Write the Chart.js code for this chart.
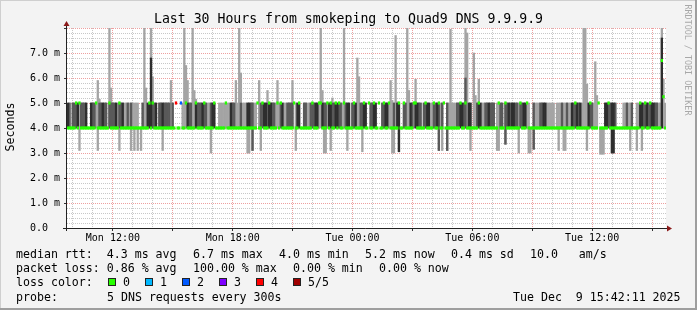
<!DOCTYPE html>
<html>
<head>
<meta charset="utf-8">
<title>Last 30 Hours from smokeping to Quad9 DNS 9.9.9.9</title>
<script src="https://cdn.jsdelivr.net/npm/chart.js@4.4.1/dist/chart.umd.min.js"></script>
<style>
  html, body { margin: 0; padding: 0; background: #f3f3f3; }
  #frame { position: relative; width: 697px; height: 310px; background: #f3f3f3; overflow: hidden; }
  #frame canvas { position: absolute; left: 0; top: 0; }
  .txt { position: absolute; font-family: "DejaVu Sans Mono", monospace; font-size: 11.6px; line-height: 14px; white-space: pre; color: #000; }
  .box { position: absolute; width: 6px; height: 6px; border: 1px solid #222; }
  #title { position: absolute; left: 0; width: 697px; top: 11px; text-align: center; font-family: "DejaVu Sans Mono", monospace; font-size: 13.2px; line-height: 16px; color: #000; }
  #ylab { position: absolute; left: 10px; top: 127px; transform: translate(-50%, -50%) rotate(-90deg); font-family: "DejaVu Sans Mono", monospace; font-size: 11.6px; white-space: pre; }
  #rrd { position: absolute; left: 688px; top: 60px; transform: translate(-50%, -50%) rotate(90deg); font-family: "DejaVu Sans Mono", monospace; font-size: 8.4px; white-space: pre; color: #a8a8a8; }
  .edge { position: absolute; }
</style>
</head>
<body>
<div id="frame">
  <canvas id="smokeChart" width="697" height="310"></canvas>
  <div id="title">Last 30 Hours from smokeping to Quad9 DNS 9.9.9.9</div>
  <div id="ylab">Seconds</div>
  <div id="rrd">RRDTOOL / TOBI OETIKER</div>
  <div id="legend"></div>
  <div class="edge" style="left:0;top:0;width:697px;height:1px;background:#cfcfcf"></div>
  <div class="edge" style="left:0;top:0;width:1px;height:310px;background:#cfcfcf"></div>
  <div class="edge" style="left:695px;top:0;width:2px;height:310px;background:#9e9e9e"></div>
  <div class="edge" style="left:0;top:308px;width:697px;height:2px;background:#9e9e9e"></div>
</div>
<script>
// 5 minute steps from Mon 09:42 to Tue 15:42
const stepMinutes = 5;
const startHour = 9, startMinute = 42;

// smoke texture per step: w = all pings equal, l = outer pings spread, d = inner pings spread, k = dense inner
const bandShade =
  "kdwdddkwdddkwwkddllddkddwddddk" +
  "lddklldldllllwwdllkkkddkwddkdd" +
  "ddldwwwwwlllkddllkdddkddlldkkw" +
  "wlllllllkddllldlllkkddllwwddkk" +
  "dkkddllldkllddddwlkkwwddlldddk" +
  "kllkddlkkddkkddlldkkwddkllddkk" +
  "wwddkkwwwddkkllldlkkwwddllkdlk" +
  "kddwddkklldd" + "kdldwwdlllll" + "ddkkdd" +
  "lkkwlldkklldd" + "kdddwlldd" + "wddkdkkd" +
  "dlddkkllwwdllldd" + "kklllllwllldll" +
  "dllkddkdkllll" + "kddlllwwww" + "kkddkkd" +
  "wwwwlldlldwwllkkddkddkkddllkll";

// steps whose median rtt is 5 ms (all others 4 ms)
const medianHighSteps = [5, 7, 17, 25, 31, 49, 51, 65, 68, 71, 77, 82, 88, 95, 114, 117, 121, 126, 128,
  136, 139, 147, 151, 152, 156, 158, 161, 163, 166, 172, 178, 181, 184, 187, 190, 193, 199, 202, 208,
  209, 215, 220, 223, 226, 236, 239, 247, 259, 263, 272, 276, 305, 314, 319, 325, 344, 347, 350];
const medianOther = [[357, 6.7], [358, 5.25]];
// [step, lost pings]
const lossSteps = [[65, 4], [68, 2]];

// [step, highest ping ms, inner top ms]
const upSpikes = [[18, 5.9], [19, 5.15], [25, 8.0], [26, 5.6], [46, 8.0], [47, 5.6], [50, 8.0, 6.8], [51, 6.05],
  [62, 5.9], [70, 8.0], [71, 6.5], [72, 5.9], [75, 8.0], [76, 5.5], [77, 5.15], [101, 5.9], [103, 8.0],
  [104, 6.2], [115, 5.9], [120, 5.5], [126, 5.9], [135, 5.9], [152, 8.0], [153, 5.5], [159, 5.2],
  [166, 8.0], [174, 6.8], [175, 6.05], [194, 5.9], [195, 5.1], [197, 7.7], [198, 5.05], [204, 8.0],
  [205, 5.5], [209, 5.95], [230, 7.95], [239, 8.0, 6.0], [240, 7.8], [244, 7.0], [245, 5.3], [247, 5.95],
  [310, 8.0], [311, 8.0], [312, 5.75], [317, 6.65], [318, 5.3], [357, 8.0, 7.6], [358, 5.95]];
// [step, lowest ping ms, inner reaches down too]
const downSpikes = [[7, 3.1], [18, 3.1], [31, 3.1], [38, 3.1], [40, 3.1], [42, 3.1], [44, 3.1], [57, 3.1],
  [86, 3.0], [108, 3.0], [109, 3.0], [111, 3.1, 1], [116, 3.1], [137, 3.1], [154, 3.0], [155, 3.0],
  [158, 3.1], [168, 3.1], [177, 3.05], [195, 3.0], [196, 3.0], [199, 3.05, 1], [223, 3.1, 1], [225, 3.1],
  [228, 3.1, 1], [242, 3.1], [258, 3.1], [259, 3.1], [263, 3.35, 1], [271, 3.0], [277, 3.0], [278, 3.0],
  [280, 3.15, 1], [295, 3.1], [298, 3.1], [299, 3.1], [312, 3.1], [320, 2.95], [321, 2.95], [322, 2.95],
  [327, 3.0, 1], [328, 3.0, 1], [338, 3.1], [342, 3.1], [345, 3.1]];

const yTickValues = [0, 1, 2, 3, 4, 5, 6, 7];
const xLabelHours = [12, 18, 24, 30, 36];

const lossColors = ["#26ff00", "#00b8ff", "#0059ff", "#7e00ff", "#ff0000", "#a00000"];
const lossLabels = ["0", "1", "2", "3", "4", "5/5"];

const totalMinutes = bandShade.length * stepMinutes;

const outer = [], innerDark = [], innerBlack = [], medians = [], medianColors = [];
for (let i = 0; i < bandShade.length; i++) {
  const x = i * stepMinutes + stepMinutes / 2;
  const shade = bandShade[i];
  let med = medianHighSteps.includes(i) ? 5 : 4;
  const other = medianOther.find(m => m[0] === i);
  if (other) med = other[1];
  let lo = shade === "w" ? med : 4;
  let hi = shade === "w" ? med : 5;
  let inLo = 4, inHi = 5;
  const up = upSpikes.find(s => s[0] === i);
  const down = downSpikes.find(s => s[0] === i);
  if (up) { hi = Math.max(hi, up[1]); if (up[2]) inHi = up[2]; }
  if (down) { lo = Math.min(lo, down[1]); if (down[2]) inLo = down[1]; }
  if (hi > lo) outer.push({ x, y: [lo, hi] });
  if (shade === "d") innerDark.push({ x, y: [inLo, inHi] });
  if (shade === "k") innerBlack.push({ x, y: [inLo, inHi] });
  medians.push({ x, y: [med - 0.05, med + 0.05] });
  const loss = lossSteps.find(l => l[0] === i);
  medianColors.push(lossColors[loss ? loss[1] : 0]);
}

const hourTicks = [];
for (let h = startHour + 1; (h - startHour) * 60 - startMinute < totalMinutes; h++) {
  hourTicks.push((h - startHour) * 60 - startMinute);
}
const hourOf = v => Math.round((v + startMinute) / 60) + startHour;
const tickVal = c => (c && c.tick ? c.tick.value : null);
const xMajor = c => { const v = tickVal(c); return v !== null && hourOf(v) % 3 === 0; };
const yMajor = c => { const v = tickVal(c); return v !== null && Math.abs(v - Math.round(v)) < 1e-9; };

const monoFont = { family: "DejaVu Sans Mono", size: 10 };

const paper = {
  id: "paper",
  beforeDraw(chart) {
    const { ctx, chartArea: a } = chart;
    ctx.save();
    ctx.fillStyle = "#f3f3f3";
    ctx.fillRect(0, 0, chart.width, chart.height);
    ctx.fillStyle = "#ffffff";
    ctx.fillRect(a.left, a.top, a.right - a.left, a.bottom - a.top);
    ctx.restore();
  },
  afterDatasetsDraw(chart) {
    const { ctx, chartArea: a } = chart;
    ctx.save();
    ctx.strokeStyle = "#222";
    ctx.lineWidth = 1;
    ctx.beginPath();
    ctx.moveTo(a.left - 0.5, a.bottom + 3);
    ctx.lineTo(a.left - 0.5, a.top - 3);
    ctx.moveTo(a.left - 4, a.bottom + 0.5);
    ctx.lineTo(a.right + 2, a.bottom + 0.5);
    ctx.stroke();
    ctx.fillStyle = "#8b1a1a";
    ctx.beginPath();
    ctx.moveTo(a.left - 0.5, a.top - 7);
    ctx.lineTo(a.left - 3.5, a.top - 2);
    ctx.lineTo(a.left + 2.5, a.top - 2);
    ctx.closePath();
    ctx.fill();
    ctx.beginPath();
    ctx.moveTo(a.right + 6, a.bottom + 0.5);
    ctx.lineTo(a.right + 1, a.bottom - 2.5);
    ctx.lineTo(a.right + 1, a.bottom + 3.5);
    ctx.closePath();
    ctx.fill();
    ctx.restore();
  }
};

new Chart("smokeChart", {
  type: "bar",
  data: {
    datasets: [
      { data: medians, backgroundColor: medianColors },
      { data: innerBlack, backgroundColor: "#2e2e2e" },
      { data: innerDark, backgroundColor: "#595959" },
      { data: outer, backgroundColor: "#a4a4a4" }
    ]
  },
  options: {
    responsive: false,
    animation: false,
    devicePixelRatio: 1,
    layout: { padding: { left: 30, right: 31, top: 28, bottom: 62 } },
    datasets: { bar: { grouped: false, barPercentage: 1, categoryPercentage: 1, borderWidth: 0 } },
    plugins: { legend: { display: false }, tooltip: { enabled: false }, title: { display: false } },
    scales: {
      x: {
        type: "linear",
        min: 0,
        max: totalMinutes,
        offset: false,
        afterBuildTicks: s => { s.ticks = hourTicks.map(v => ({ value: v })); },
        afterFit: s => { s.height = 20; },
        border: { display: false, dash: [1, 1] },
        grid: {
          offset: false,
          color: c => xMajor(c) ? "#eea0a0" : "#c8c8c8",
          tickLength: 3,
          tickColor: c => xMajor(c) ? "#333" : "rgba(0,0,0,0)"
        },
        ticks: {
          autoSkip: false, maxRotation: 0, padding: 1, color: "#000", font: monoFont,
          callback: v => {
            const h = hourOf(v);
            if (!xLabelHours.includes(h)) return "";
            return (h < 24 ? "Mon " : "Tue ") + String(h % 24).padStart(2, "0") + ":00";
          }
        }
      },
      y: {
        min: 0,
        max: 8,
        afterBuildTicks: s => {
          const t = [];
          for (let k = 0; k <= 40; k++) t.push({ value: k / 5 });
          s.ticks = t;
        },
        afterFit: s => { s.width = 37; },
        border: { display: false, dash: [1, 1] },
        grid: {
          color: c => yMajor(c) ? "#eea0a0" : "#c8c8c8",
          tickLength: 3,
          tickColor: c => yMajor(c) ? "#333" : "rgba(0,0,0,0)"
        },
        ticks: {
          autoSkip: false, crossAlign: "far", padding: 4, color: "#000", font: monoFont,
          callback: v => {
            const n = Math.round(v);
            if (Math.abs(v - n) > 1e-9 || !yTickValues.includes(n)) return "";
            return n === 0 ? "0.0" : n.toFixed(1) + " m";
          }
        }
      }
    }
  },
  plugins: [paper]
});

// legend block under the graph
const legendLines = [
  [[16, "median rtt:  4.3 ms avg"], [193, "6.7 ms max"], [279, "4.0 ms min"], [365, "5.2 ms now"], [451, "0.4 ms sd"], [530, "10.0   am/s"]],
  [[16, "packet loss: 0.86 % avg"], [193, "100.00 % max"], [293, "0.00 % min"], [379, "0.00 % now"]],
  [[16, "loss color:"]],
  [[16, "probe:"], [107, "5 DNS requests every 300s"], [513, "Tue Dec  9 15:42:11 2025"]]
];
const legend = document.getElementById("legend");
legendLines.forEach((items, row) => {
  items.forEach(([x, text]) => {
    const d = document.createElement("div");
    d.className = "txt";
    d.style.left = x + "px";
    d.style.top = (247 + row * 14.2) + "px";
    d.textContent = text;
    legend.appendChild(d);
  });
});
lossLabels.forEach((label, k) => {
  const bx = 108 + k * 37;
  const b = document.createElement("div");
  b.className = "box";
  b.style.left = bx + "px";
  b.style.top = "278px";
  b.style.background = lossColors[k];
  legend.appendChild(b);
  const t = document.createElement("div");
  t.className = "txt";
  t.style.left = (bx + 15) + "px";
  t.style.top = (247 + 2 * 14.2) + "px";
  t.textContent = label;
  legend.appendChild(t);
});
</script>
</body>
</html>
